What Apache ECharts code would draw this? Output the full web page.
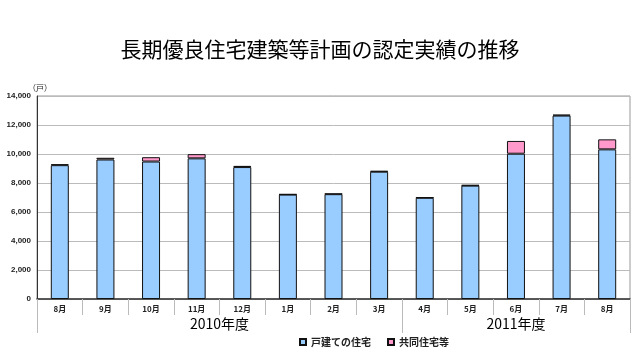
<!DOCTYPE html>
<html><head><meta charset="utf-8">
<script src="https://cdn.jsdelivr.net/npm/echarts@6/dist/echarts.min.js"></script>
<style>html,body{margin:0;padding:0;background:#fff}#c{width:640px;height:360px}</style>
</head><body><div id="c"></div>
<script>
var months = ['8月','9月','10月','11月','12月','1月','2月','3月','4月','5月','6月','7月','8月'];
var detached = [9230, 9620, 9480, 9700, 9100, 7200, 7230, 8780, 6980, 7820, 10020, 12650, 10320];
var collective = [60, 120, 300, 290, 80, 30, 40, 50, 30, 40, 880, 60, 690];
var yearLabels = ['2010年度', '2011年度'];
var seriesNames = ['戸建ての住宅', '共同住宅等'];
var yTicks = [0, 2000, 4000, 6000, 8000, 10000, 12000, 14000];

// second-level axis: half-category positions 0..26
var yearAxis = [];
for (var i = 0; i <= 26; i++) yearAxis.push('');
yearAxis[8] = yearLabels[0];
yearAxis[21] = yearLabels[1];

var chart = echarts.init(document.getElementById('c'));
var jp = '"Noto Sans CJK JP", sans-serif';
chart.setOption({
  animation: false,
  backgroundColor: '#fff',
  title: {
    text: '長期優良住宅建築等計画の認定実績の推移',
    left: 'center', top: 34,
    textStyle: { fontFamily: jp, fontSize: 21, fontWeight: 'normal', color: '#000' }
  },
  legend: {
    data: seriesNames, left: 294, top: 332, itemWidth: 6, itemHeight: 6, itemGap: 16,
    icon: 'rect',
    textStyle: { fontFamily: jp, fontSize: 10, fontWeight: 'bold', color: '#222' }
  },
  grid: { left: 37, right: 10, top: 96, bottom: 61, show: true, borderColor: '#999', borderWidth: 1 },
  xAxis: [{
    type: 'category', data: months, position: 'bottom',
    axisLine: { lineStyle: { color: '#333', width: 1.5 } },
    axisTick: { show: true, interval: 0, length: 16, lineStyle: { color: '#bbb' } },
    axisLabel: { interval: 0, margin: 6, fontSize: 8, fontWeight: 'bold', color: '#222', fontFamily: jp }
  }, {
    type: 'category', data: yearAxis, position: 'bottom', boundaryGap: false,
    axisLine: { show: false },
    axisTick: { show: true, length: 34, lineStyle: { color: '#bbb' },
      interval: function (idx) { return idx === 0 || idx === 16 || idx === 26; } },
    axisLabel: { interval: function (idx) { return idx === 8 || idx === 21; },
      margin: 18, fontSize: 14, color: '#000', fontFamily: jp }
  }],
  yAxis: {
    type: 'value', min: yTicks[0], max: yTicks[yTicks.length - 1], interval: 2000,
    name: '（戸）', nameGap: 2,
    nameTextStyle: { fontFamily: jp, fontSize: 8, color: '#222', padding: [0, 0, 0, 6] },
    axisLine: { show: true, lineStyle: { color: '#333' } },
    axisTick: { show: false },
    splitLine: { lineStyle: { color: '#bbb' } },
    axisLabel: { fontSize: 8, fontWeight: 'bold', color: '#222', margin: 6,
      formatter: function (v) { return v.toLocaleString('en-US'); } }
  },
  series: [{
    name: seriesNames[0], type: 'bar', stack: 's', data: detached, barWidth: 18,
    itemStyle: { color: '#99CCFF', borderColor: '#111', borderWidth: 1 }
  }, {
    name: seriesNames[1], type: 'bar', stack: 's', data: collective, barWidth: 18,
    itemStyle: { color: '#FF99CC', borderColor: '#111', borderWidth: 1 }
  }]
});
</script></body></html>
